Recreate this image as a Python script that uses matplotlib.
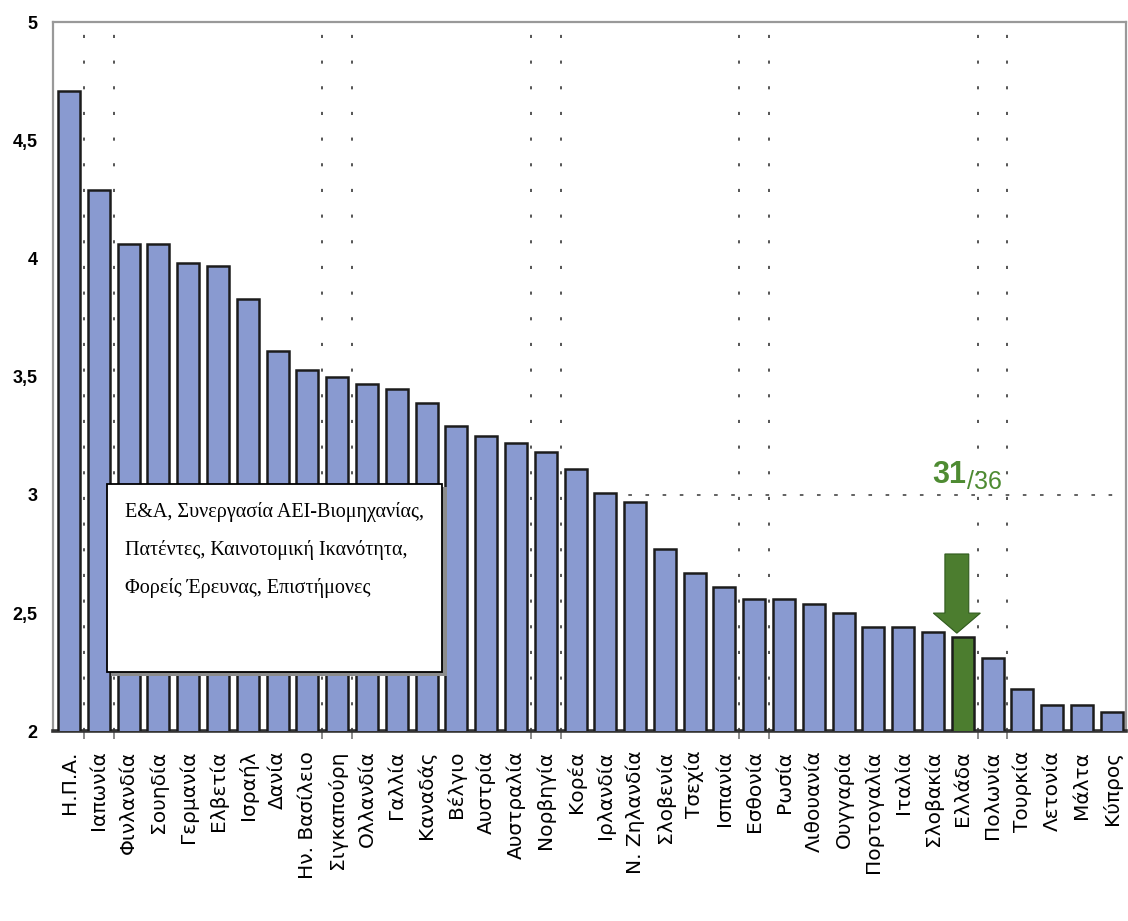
import numpy as np
import matplotlib.pyplot as plt
from matplotlib.patches import Rectangle, FancyArrow
from matplotlib.font_manager import FontProperties

countries = ['Η.Π.Α.', 'Ιαπωνία', 'Φινλανδία', 'Σουηδία', 'Γερμανία', 'Ελβετία',
             'Ισραήλ', 'Δανία', 'Ην. Βασίλειο', 'Σιγκαπούρη', 'Ολλανδία', 'Γαλλία',
             'Καναδάς', 'Βέλγιο', 'Αυστρία', 'Αυστραλία', 'Νορβηγία', 'Κορέα',
             'Ιρλανδία', 'Ν. Ζηλανδία', 'Σλοβενία', 'Τσεχία', 'Ισπανία', 'Εσθονία',
             'Ρωσία', 'Λιθουανία', 'Ουγγαρία', 'Πορτογαλία', 'Ιταλία', 'Σλοβακία',
             'Ελλάδα', 'Πολωνία', 'Τουρκία', 'Λετονία', 'Μάλτα', 'Κύπρος']
scores = [4.71, 4.29, 4.06, 4.06, 3.98, 3.97, 3.83, 3.61, 3.53, 3.50, 3.47, 3.45,
          3.39, 3.29, 3.25, 3.22, 3.18, 3.11, 3.01, 2.97, 2.77, 2.67, 2.61, 2.56,
          2.56, 2.54, 2.50, 2.44, 2.44, 2.42, 2.40, 2.31, 2.18, 2.11, 2.11, 2.08]
highlight = 'Ελλάδα'
rank, total = '31', '/36'

y_ticks = [2, 2.5, 3, 3.5, 4, 4.5, 5]
y_ticklabels = ['2', '2,5', '3', '3,5', '4', '4,5', '5']
# bars that sit between a pair of dotted vertical lines
framed = ['Ιαπωνία', 'Σιγκαπούρη', 'Νορβηγία', 'Εσθονία', 'Πολωνία']
ref_level = 3
ref_from = 'Ιρλανδία'

box_lines = ['Ε&Α, Συνεργασία ΑΕΙ-Βιομηχανίας,',
             'Πατέντες, Καινοτομική Ικανότητα,',
             'Φορείς Έρευνας, Επιστήμονες']

blue = '#899ad0'
green = '#4c7d2f'
narrow = ['Liberation Sans Narrow', 'Liberation Sans', 'DejaVu Sans']
label_font = FontProperties(family='DejaVu Sans', size=14.5)

fig = plt.figure(figsize=(11.28, 9.21), dpi=100)
ax = fig.add_axes([0.047, 0.206, 0.951, 0.770])

x = np.arange(len(countries))
gi = countries.index(highlight)
colors = [green if c == highlight else blue for c in countries]
ax.bar(x, scores, width=0.74, bottom=0, color=colors, edgecolor='#1c1c1c',
       linewidth=1.8, zorder=3)

ax.set_ylim(2, 5)
ax.set_xlim(-0.54, len(countries) - 0.53)

# dotted vertical lines around some bars
bounds = []
for c in framed:
    i = countries.index(c)
    bounds += [i - 0.5, i + 0.5]
for b in bounds:
    ax.axvline(b, color='#555555', lw=1.4, ls=(0, (1.6, 11.6)), zorder=1)

# dotted reference line at 3
ri = countries.index(ref_from)
ax.hlines(ref_level, ri - 0.37, len(countries), color='#555555', lw=1.3,
          ls=(0, (2, 7.5)), zorder=1)

# green arrow pointing at the highlighted bar
tip = scores[gi] + 0.015
top = scores[gi] + 0.35
ax.add_patch(FancyArrow(gi - 0.2, top, 0, tip - top, width=0.8, head_width=1.58,
                        head_length=0.085, length_includes_head=True,
                        facecolor=green, edgecolor='#2f5a1c', lw=0.8, zorder=5))

ax.text(gi + 0.12, 3.05, rank, color='#4e8b32', fontsize=22, fontweight='bold',
        family=narrow, ha='right', va='baseline', zorder=6)
ax.text(gi + 0.15, 3.025, total, color='#4e8b32', fontsize=18,
        family=narrow, ha='left', va='baseline', zorder=6)

# text box
ax.add_patch(Rectangle((0.054, 0.078), 0.313, 0.266, transform=ax.transAxes,
                       facecolor='#8c8c8c', edgecolor='none', zorder=7))
ax.add_patch(Rectangle((0.050, 0.083), 0.313, 0.266, transform=ax.transAxes,
                       facecolor='white', edgecolor='black', lw=1.3, zorder=8))
for k, line in enumerate(box_lines):
    ax.text(0.067, 0.309 - k * 0.0535, line, transform=ax.transAxes,
            fontsize=14.5, family='Liberation Serif', ha='left', va='center',
            zorder=9)

# axes styling
ax.set_yticks(y_ticks)
ax.set_yticklabels(y_ticklabels, fontsize=13, fontweight='bold', family=narrow)
ax.tick_params(axis='y', length=0, pad=11)

ax.set_xticks(x)
ax.set_xticklabels(countries, rotation=90, fontproperties=label_font)
ax.tick_params(axis='x', which='major', length=0, pad=14)
ax.set_xticks(bounds, minor=True)
ax.tick_params(axis='x', which='minor', length=6, width=1.2, color='#777777',
               direction='out')

for side in ['left', 'top', 'right']:
    ax.spines[side].set_color('#999999')
    ax.spines[side].set_linewidth(1.6)
ax.spines['bottom'].set_color('#333333')
ax.spines['bottom'].set_linewidth(2.6)

fig.savefig('out.png', dpi=100)
